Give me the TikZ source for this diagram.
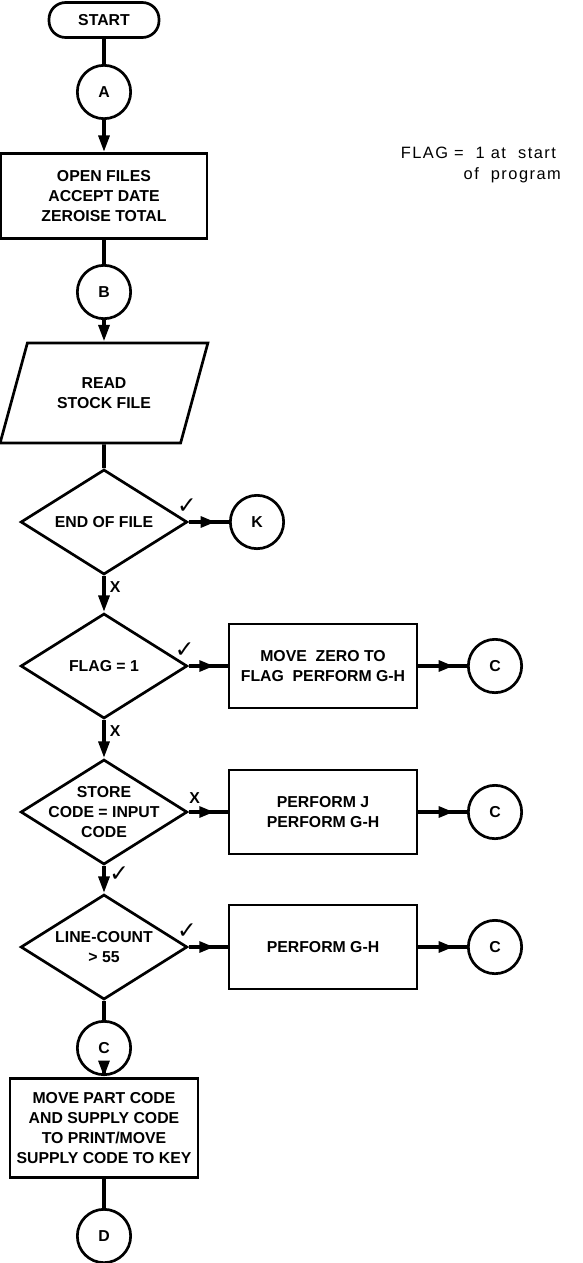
\documentclass[tikz,border=0pt]{standalone}
\usepackage{fontspec}
\setmainfont{Liberation Sans}
\newfontfamily\tickfont{DejaVu Sans}
\usetikzlibrary{arrows.meta,shapes.geometric,decorations.markings}

\begin{document}
\begin{tikzpicture}[auto,node distance=3cm,
  every node/.style={font=\fontsize{13.5}{17}\selectfont\bfseries},
  term/.style={rectangle,rounded corners=0.5cm,draw,line width=2.3pt,minimum width=3.3cm,minimum height=1.05cm},
  conn/.style={circle,draw,line width=2.3pt,minimum size=1.6cm,inner sep=0pt},
  box/.style={rectangle,draw,line width=2.3pt,minimum width=5.64cm,minimum height=2.52cm,align=center},
  io/.style={trapezium,trapezium left angle=65,trapezium right angle=115,trapezium stretches=true,draw,line width=2.3pt,minimum width=6.24cm,minimum height=3cm,align=center},
  dec/.style={diamond,aspect=1.6,draw,line width=2.3pt,minimum width=5cm,minimum height=3.15cm,inner sep=0pt,align=center},
  tick/.style={font=\fontsize{20}{20}\selectfont\tickfont\bfseries,inner sep=0pt},
  line/.style={line width=3.3pt},
  flow/.style={line width=3.3pt,-{Triangle[length=0.5cm,width=0.32cm]}},
  side/.style={line width=3.3pt,postaction=decorate,decoration={markings,mark=at position -0.4cm with {\arrow{Triangle[length=0.45cm,width=0.32cm]}}}}]
  \useasboundingbox (0,0) rectangle (17.49,-37.89);
  			\node[term] (start) at (3.12,-0.6) {START};
  			\node[conn] (A) [below of=start, node distance=2.16cm] {A};
  			\node[box,minimum width=6.18cm,minimum height=2.55cm] (open) [below of=A, node distance=3.12cm] {OPEN FILES\\ACCEPT DATE\\ZEROISE TOTAL};
  			\node[conn] (B) [below of=open, node distance=2.88cm] {B};
  			\node[io] (read) [below of=B, node distance=3.03cm] {READ\\STOCK FILE};
  			\node[dec] (eof) [below of=read, node distance=3.87cm] {END OF FILE};
  			\node[conn] (K) [right of=eof, node distance=4.59cm] {K};
  			\node[dec] (flag) [below of=eof, node distance=4.32cm] {FLAG = 1};
  			\node[box] (zero) [right of=flag, node distance=6.57cm] {MOVE\ \ ZERO TO\\FLAG\ \ PERFORM G-H};
  			\node[conn] (C1) [right of=zero, node distance=5.16cm] {C};
  			\node[dec,inner xsep=-0.35cm,inner ysep=-0.2cm] (store) [below of=flag, node distance=4.38cm] {STORE\\CODE = INPUT\\CODE};
  			\node[box] (perfj) [right of=store, node distance=6.57cm] {PERFORM J\\PERFORM G-H};
  			\node[conn] (C2) [right of=perfj, node distance=5.16cm] {C};
  			\node[dec] (count) [below of=store, node distance=4.05cm] {LINE-COUNT\\> 55};
  			\node[box] (perfgh) [right of=count, node distance=6.57cm] {PERFORM G-H};
  			\node[conn] (C3) [right of=perfgh, node distance=5.16cm] {C};
  			\node[conn] (C4) [below of=count, node distance=3.03cm] {C};
  			\node[box,minimum height=2.97cm] (move) [below of=C4, node distance=2.4cm] {MOVE PART CODE\\AND SUPPLY CODE\\TO PRINT/MOVE\\SUPPLY CODE TO KEY};
  			\node[conn] (D) [below of=move, node distance=3.24cm] {D};
  			\node[font=\fontsize{14}{17.5}\selectfont\addfontfeature{LetterSpace=9},align=left,anchor=north west] (note) at (11.9,-4.3) {FLAG =\ \ 1 at\ \ start\\\hphantom{FLAG =}of\ \ program};
  			% main column
  			\draw[line] (start) -- (A);
  			\draw[flow] (A) -- (open);
  			\draw[line] (open) -- (B);
  			\draw[flow] (B) -- (read);
  			\draw[line] (read) -- (eof);
  			\draw[flow] (eof) -- node[pos=0.3] {X} (flag);
  			\draw[flow] (flag) -- node[pos=0.3] {X} (store);
  			\draw[flow] (store) -- node[pos=0.3,tick,xshift=0.1cm] {✓} (count);
  			\draw[line] (count) -- (C4);
  			\draw[flow] (C4) -- (move);
  			\draw[line] (move) -- (D);
  			% branches
  			\draw[side] (eof) -- node[pos=0,tick,anchor=south,xshift=-0.05cm,yshift=0.2cm] {✓} (K);
  			\draw[side] (flag) -- node[pos=0,tick,anchor=south,xshift=-0.12cm,yshift=0.2cm] {✓} (zero);
  			\draw[side] (store) -- node[pos=0,anchor=south,inner sep=0pt,xshift=0.18cm,yshift=0.2cm] {X} (perfj);
  			\draw[side] (count) -- node[pos=0,tick,anchor=south,xshift=-0.05cm,yshift=0.2cm] {✓} (perfgh);
  			\draw[side] (zero) -- (C1);
  			\draw[side] (perfj) -- (C2);
  			\draw[side] (perfgh) -- (C3);
		\end{tikzpicture}
\end{document}
